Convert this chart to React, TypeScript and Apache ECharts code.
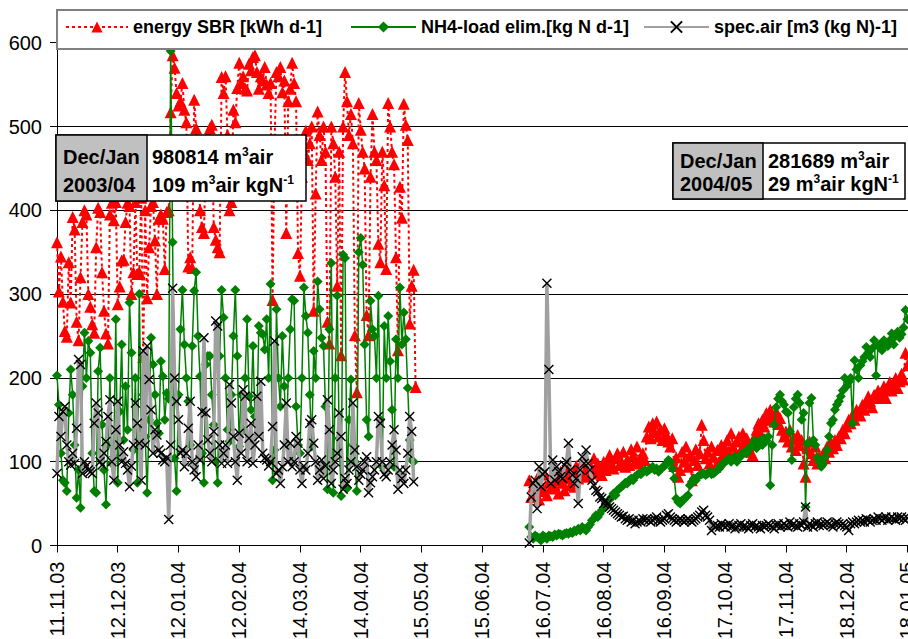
import React, { useEffect, useRef } from "react";
import * as echarts from "echarts";

const tickLabels = ["11.11.03", "12.12.03", "12.01.04", "12.02.04", "14.03.04", "14.04.04", "15.05.04", "15.06.04", "16.07.04", "16.08.04", "16.09.04", "17.10.04", "17.11.04", "18.12.04", "18.01.05"];
const seriesNames = ["energy SBR [kWh d-1]", "NH4-load elim.[kg N d-1]", "spec.air [m3 (kg N)-1]"];

// day index 0 = 11.11.03
const start1 = 0;
const start2 = 241;
const gapDay = 212;

const energy1 = [
  362, 303, 345, 291, 256, 249, 338, 290, 392, 377,
  267, 245, 320, 386, 400, 395, 300, 285, 264, 254,
  356, 403, 398, 326, 280, 253, 241, 395, 409, 388,
  410, 288, 309, 340, 341, 386, 409, 405, 300, 326,
  410, 324, 326, 415, 225, 400, 295, 356, 405, 410,
  364, 300, 390, 395, 390, 330, 398, 400, 517, 585,
  570, 540, 525, 530, 552, 520, 505, 333, 344, 331,
  532, 498, 460, 400, 380, 373, 470, 490, 498, 502,
  380, 365, 356, 350, 559, 540, 560, 490, 400, 410,
  520, 505, 546, 576, 552, 560, 545, 543, 575, 567,
  583, 585, 565, 545, 560, 555, 571, 550, 540, 552,
  293, 480, 565, 560, 571, 541, 555, 373, 530, 545,
  576, 552, 530, 349, 322, 440, 470, 495, 460, 480,
  500, 280, 420, 518, 490, 460, 500, 470, 267, 241,
  500, 480, 440, 310, 470, 227, 500, 565, 530, 490,
  515, 480, 251, 183, 528, 496, 470, 450, 275, 251,
  440, 515, 470, 460, 360, 338, 470, 430, 330, 528,
  500, 470, 455, 344, 233, 428, 391, 527, 502, 484,
  265, 310, 329, 189,
];
const nh4_1 = [
  203, 168, 110, 78, 75, 65, 158, 210, 180, 120,
  57, 90, 45, 190, 254, 200, 244, 230, 110, 65,
  63, 208, 236, 144, 90, 49, 120, 200, 98, 106,
  270, 75, 160, 240, 126, 190, 138, 290, 230, 114,
  200, 75, 300, 140, 180, 130, 63, 150, 248, 216,
  180, 146, 134, 220, 202, 150, 182, 175, 590, 362,
  104, 65, 180, 258, 305, 240, 200, 172, 120, 238,
  304, 326, 250, 202, 110, 75, 216, 226, 226, 180,
  144, 100, 75, 226, 305, 272, 200, 138, 124, 180,
  250, 305, 226, 118, 180, 138, 200, 270, 178, 162,
  238, 154, 146, 262, 254, 252, 234, 270, 200, 312,
  78, 114, 282, 200, 166, 250, 190, 122, 200, 258,
  294, 292, 166, 120, 110, 200, 308, 274, 254, 180,
  118, 232, 200, 315, 282, 248, 238, 166, 67, 258,
  337, 63, 200, 298, 128, 59, 347, 343, 68, 150,
  198, 120, 100, 65, 350, 367, 335, 240, 150, 130,
  292, 258, 250, 200, 298, 150, 94, 262, 200, 274,
  220, 162, 94, 246, 200, 308, 240, 278, 246, 188,
  126, 102, 100,
];
const air1 = [
  86, 154, 130, 160, 166, 120, 100, 96, 110, 98,
  140, 222, 216, 86, 100, 95, 90, 88, 86, 146,
  170, 158, 100, 96, 110, 124, 154, 174, 100, 78,
  138, 172, 120, 100, 112, 98, 90, 70, 95, 120,
  170, 146, 122, 78, 232, 120, 238, 198, 162, 110,
  138, 132, 114, 110, 102, 100, 105, 31, 120, 307,
  200, 172, 150, 110, 114, 94, 110, 140, 172, 100,
  90, 82, 120, 102, 160, 248, 158, 126, 110, 100,
  136, 268, 262, 120, 98, 110, 120, 98, 192, 170,
  130, 100, 78, 134, 110, 186, 178, 100, 128, 146,
  98, 120, 178, 130, 196, 110, 104, 102, 95, 100,
  142, 244, 86, 90, 74, 94, 120, 170, 100, 122,
  94, 100, 130, 122, 90, 74, 95, 90, 110, 146,
  150, 122, 100, 78, 90, 102, 80, 95, 174, 138,
  74, 90, 100, 110, 158, 130, 67, 80, 74, 90,
  100, 170, 114, 94, 78, 85, 90, 100, 106, 63,
  75, 82, 90, 100, 154, 146, 100, 85, 82, 90,
  100, 120, 138, 114, 67, 90, 80, 74, 90, 110,
  154, 136, 76,
];

const energy2 = [
  78, 58, 70, 62, 80, 55, 72, 65, 85, 60,
  75, 68, 82, 70, 78, 62, 88, 75, 66, 80,
  92, 72, 85, 70, 95, 80, 88, 100, 84, 92,
  82, 96, 88, 104, 86, 98, 92, 84, 100, 90,
  95, 108, 98, 92, 104, 110, 96, 100, 112, 94,
  102, 96, 115, 108, 100, 118, 98, 106, 110, 102,
  130, 142, 128, 146, 135, 148, 130, 138, 126, 140,
  132, 124, 118, 128, 95, 105, 82, 90, 112, 100,
  118, 94, 108, 78, 102, 115, 96, 110, 144, 126,
  104, 112, 98, 118, 106, 94, 114, 100, 120, 108,
  116, 126, 112, 134, 118, 108, 124, 130, 114, 134,
  122, 128, 112, 120, 108, 130, 138, 146, 134, 150,
  142, 158, 150, 162, 156, 148, 160, 145, 152, 138,
  130, 136, 124, 138, 118, 128, 114, 132, 120, 126,
  98, 82, 116, 124, 110, 102, 118, 98, 106, 102,
  110, 104, 118, 112, 122, 116, 126, 120, 130, 128,
  138, 134, 142, 150, 146, 156, 150, 162, 158, 155,
  168, 162, 170, 178, 172, 165, 180, 176, 185, 178,
  182, 190, 176, 188, 195, 185, 192, 200, 188, 196,
  205, 198, 230, 215,
];
const nh4_2 = [
  22, 10, 8, 12, 10, 9, 6, 12, 10, 8,
  12, 11, 10, 13, 12, 14, 13, 12, 14, 15,
  14, 16, 15, 18, 17, 20, 18, 22, 20, 18,
  22, 25, 30, 32, 36, 34, 38, 42, 45, 50,
  48, 55, 58, 62, 60, 66, 68, 70, 72, 75,
  74, 78, 80, 78, 82, 84, 86, 85, 88, 90,
  88, 90, 92, 94, 90, 92, 88, 91, 93, 95,
  98, 102, 100, 92, 80, 56, 52, 50, 54, 55,
  58, 60, 72, 76, 80, 78, 82, 84, 85, 86,
  84, 86, 88, 85, 86, 88, 90, 92, 96, 98,
  100, 102, 104, 100, 103, 106, 100, 104, 108, 110,
  112, 110, 115, 118, 120, 125, 116, 122, 126, 120,
  128, 125, 130, 72, 120, 144, 165, 175, 180, 172,
  168, 160, 158, 136, 102, 165, 175, 180, 170, 150,
  158, 46, 122, 170, 176, 126, 120, 105, 100, 94,
  98, 106, 114, 130, 146, 150, 162, 168, 172, 178,
  185, 200, 190, 195, 200, 146, 221, 210, 200, 215,
  220, 225, 237, 230, 225, 235, 245, 203, 238, 240,
  233, 245, 240, 238, 245, 253, 240, 250, 255, 248,
  252, 260, 281, 270,
];
const air2 = [
  3, 58, 74, 78, 44, 94, 70, 85, 88, 313,
  210, 74, 102, 78, 94, 88, 82, 80, 96, 100,
  122, 90, 84, 74, 80, 50, 90, 106, 98, 114,
  98, 90, 78, 72, 66, 64, 58, 56, 50, 54,
  50, 46, 44, 42, 40, 38, 36, 34, 35, 32,
  30, 32, 28, 30, 26, 28, 30, 28, 32, 30,
  32, 30, 28, 30, 32, 34, 30, 28, 30, 32,
  36, 38, 34, 32, 30, 28, 30, 32, 30, 28,
  30, 32, 30, 28, 30, 32, 34, 36, 40, 42,
  36, 34, 30, 18, 24, 22, 24, 22, 26, 24,
  22, 24, 26, 22, 24, 20, 22, 24, 26, 22,
  24, 22, 20, 24, 26, 22, 24, 22, 20, 24,
  22, 24, 26, 24, 22, 20, 24, 26, 22, 24,
  26, 24, 22, 28, 24, 26, 24, 22, 26, 24,
  28, 46, 22, 26, 24, 22, 26, 28, 24, 26,
  24, 26, 28, 26, 24, 22, 26, 28, 26, 24,
  26, 24, 22, 18, 26, 28, 26, 28, 30, 28,
  30, 28, 32, 30, 28, 30, 32, 30, 34, 32,
  30, 32, 34, 30, 32, 34, 32, 30, 34, 32,
  34, 32, 30, 33,
];

const boxes = [
  { period: "Dec/Jan", years: "2003/04", vol: "980814", spec: "109" },
  { period: "Dec/Jan", years: "2004/05", vol: "281689", spec: "29" },
];

const FONT = "'Liberation Sans', Arial, Helvetica, sans-serif";

function toPairs(a: number[], b: number[]) {
  return [
    ...a.map((v, i) => [start1 + i, v]),
    [gapDay, null],
    ...b.map((v, i) => [start2 + i, v]),
  ];
}

const richStyles = {
  a: { fontSize: 20, fontWeight: "bold", fontFamily: FONT, fill: "#000", lineHeight: 22 },
  s: { fontSize: 12, fontWeight: "bold", fontFamily: FONT, fill: "#000", verticalAlign: "top", lineHeight: 12 },
};

function makeBox(x: number, y: number, w: number, h: number, gw: number, row1: number, row2: number, b: typeof boxes[0]) {
  return {
    type: "group",
    z: 10,
    children: [
      { type: "rect", z: 10, shape: { x, y, width: w, height: h }, style: { fill: "#fff", stroke: "#000", lineWidth: 1.5 } },
      { type: "rect", z: 11, shape: { x, y, width: gw, height: h }, style: { fill: "#C0C0C0", stroke: "#000", lineWidth: 1.5 } },
      { type: "text", z: 12, x: x + 7, y: y + row1, style: { text: b.period, fontSize: 20, fontWeight: "bold", fontFamily: FONT, fill: "#000", verticalAlign: "middle" } },
      { type: "text", z: 12, x: x + 7, y: y + row2, style: { text: b.years, fontSize: 20, fontWeight: "bold", fontFamily: FONT, fill: "#000", verticalAlign: "middle" } },
      { type: "text", z: 12, x: x + gw + 5, y: y + row1, style: { text: "{a|" + b.vol + " m}{s|3}{a|air}", rich: richStyles, verticalAlign: "middle" } },
      { type: "text", z: 12, x: x + gw + 5, y: y + row2, style: { text: "{a|" + b.spec + " m}{s|3}{a|air kgN}{s|-1}", rich: richStyles, verticalAlign: "middle" } },
    ],
  };
}

export default function App() {
  const ref = useRef<HTMLDivElement>(null);
  useEffect(() => {
    if (!ref.current) return;
    const chart = echarts.init(ref.current, undefined, { renderer: "svg" });
    const legendLeft = [65, 350, 643];
    const legendIconW = [62, 65, 65];
    const option = {
      animation: false,
      backgroundColor: "#fff",
      grid: { left: 57, top: 42.7, width: 872, height: 502.8 },
      xAxis: {
        type: "value",
        min: 0,
        max: 445,
        interval: 31,
        axisLine: { show: true, lineStyle: { color: "#000", width: 1 } },
        axisTick: { show: true, length: 7, lineStyle: { color: "#000" } },
        splitLine: { show: false },
        axisLabel: {
          rotate: 90,
          fontSize: 20,
          color: "#000",
          fontFamily: FONT,
          margin: 16,
          formatter: (v: number) => (v % 31 === 0 && tickLabels[v / 31]) ? tickLabels[v / 31] : "",
        },
      },
      yAxis: {
        type: "value",
        min: 0,
        max: 600,
        interval: 100,
        axisLine: { show: true, lineStyle: { color: "#000", width: 1 } },
        axisTick: { show: true, length: 7, lineStyle: { color: "#000" } },
        splitLine: { show: true, lineStyle: { color: "#000", width: 1 } },
        axisLabel: { fontSize: 20, color: "#000", fontFamily: FONT, margin: 15 },
      },
      legend: seriesNames.map((n, i) => ({
        data: [n],
        left: legendLeft[i],
        top: 18,
        padding: 0,
        itemGap: 0,
        itemWidth: legendIconW[i],
        itemHeight: 14,
        selectedMode: false,
        z: 20,
        textStyle: { fontSize: 18, fontWeight: "bold", color: "#000", fontFamily: FONT },
      })),
      graphic: [
        { type: "rect", z: 10, shape: { x: 57, y: 10, width: 900, height: 39 }, style: { fill: "#fff", stroke: "#808080", lineWidth: 2 } },
        makeBox(56, 135, 250, 66, 91, 22, 50, boxes[0]),
        makeBox(673, 143, 232, 56, 90, 18, 41, boxes[1]),
      ],
      series: [
        {
          name: seriesNames[0],
          type: "line",
          data: toPairs(energy1, energy2),
          symbol: "triangle",
          symbolSize: 12,
          showSymbol: true,
          showAllSymbol: true,
          connectNulls: false,
          silent: true,
          itemStyle: { color: "#FF0000" },
          lineStyle: { color: "#FF0000", width: 2, type: [3, 3] },
          z: 2,
        },
        {
          name: seriesNames[1],
          type: "line",
          data: toPairs(nh4_1, nh4_2),
          symbol: "diamond",
          symbolSize: 10,
          showSymbol: true,
          showAllSymbol: true,
          connectNulls: false,
          silent: true,
          itemStyle: { color: "#008000" },
          lineStyle: { color: "#008000", width: 1.5 },
          z: 3,
        },
        {
          name: seriesNames[2],
          type: "line",
          data: toPairs(air1, air2),
          symbol: "path://M0,0L10,10M10,0L0,10",
          symbolSize: 9,
          showSymbol: true,
          showAllSymbol: true,
          connectNulls: false,
          silent: true,
          itemStyle: { color: "#000", borderColor: "#000", borderWidth: 1.4 },
          lineStyle: { color: "#A0A0A0", width: 3.5 },
          z: 4,
        },
      ],
    };
    chart.setOption(option as any);
    return () => chart.dispose();
  }, []);
  return (
    <div style={{ position: "fixed", left: 0, top: 0, width: 908, height: 639, overflow: "hidden", background: "#fff" }}>
      <div ref={ref} style={{ width: 940, height: 700 }} />
    </div>
  );
}
